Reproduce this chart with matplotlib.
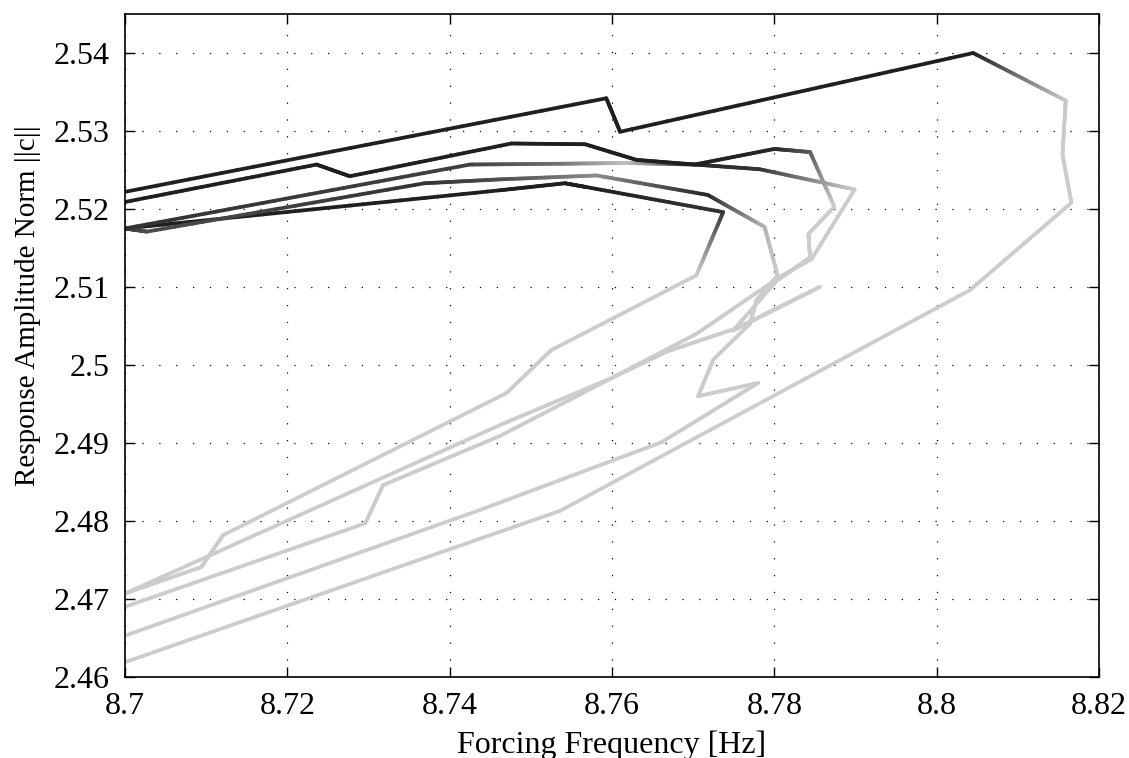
import numpy as np
import matplotlib
matplotlib.use("Agg")
import matplotlib.pyplot as plt
from matplotlib.collections import LineCollection

# frequency [Hz], amplitude norm, grey shade (0 = black, 1 = white) per point
freq_a = [8.7000, 8.7593, 8.7610, 8.8045, 8.8159, 8.8155, 8.8166, 8.8041, 8.7536, 8.7000]
amp_a = [2.5222, 2.5342, 2.5299, 2.5400, 2.5339, 2.5270, 2.5208, 2.5096, 2.4813, 2.4619]
shade_a = [0.12, 0.12, 0.12, 0.12, 0.78, 0.80, 0.80, 0.80, 0.80, 0.80]

freq_b = [8.7000, 8.7236, 8.7277, 8.7476, 8.7567, 8.7630, 8.7702, 8.7800, 8.7844, 8.7874,
          8.7842, 8.7844, 8.7803, 8.7749, 8.7856, 8.7753, 8.7667, 8.7601, 8.7462, 8.7000]
amp_b = [2.5209, 2.5257, 2.5242, 2.5284, 2.5283, 2.5263, 2.5257, 2.5277, 2.5273, 2.5203,
         2.5168, 2.5138, 2.5108, 2.5044, 2.5100, 2.5047, 2.5017, 2.4984, 2.4923, 2.4707]
shade_b = [0.12, 0.12, 0.12, 0.12, 0.12, 0.12, 0.12, 0.15, 0.35, 0.80,
           0.80, 0.80, 0.80, 0.80, 0.80, 0.80, 0.80, 0.80, 0.80, 0.80]

freq_c = [8.7000, 8.7425, 8.7536, 8.7618, 8.7702, 8.7782, 8.7899, 8.7846, 8.7807, 8.7704,
          8.7601, 8.7462, 8.7318, 8.7296, 8.7000]
amp_c = [2.5175, 2.5257, 2.5258, 2.5259, 2.5257, 2.5251, 2.5225, 2.5136, 2.5113, 2.5040,
         2.4984, 2.4909, 2.4846, 2.4797, 2.4690]
shade_c = [0.20, 0.25, 0.45, 0.75, 0.15, 0.20, 0.80, 0.80, 0.80, 0.80,
           0.80, 0.80, 0.80, 0.80, 0.80]

freq_d = [8.7000, 8.7027, 8.7369, 8.7462, 8.7581, 8.7718, 8.7788, 8.7804, 8.7778, 8.7770,
          8.7725, 8.7706, 8.7780, 8.7661, 8.7437, 8.7000]
amp_d = [2.5175, 2.5171, 2.5233, 2.5238, 2.5243, 2.5218, 2.5177, 2.5115, 2.5083, 2.5053,
         2.5007, 2.4960, 2.4977, 2.4901, 2.4814, 2.4653]
shade_d = [0.20, 0.30, 0.20, 0.30, 0.55, 0.15, 0.70, 0.80, 0.80, 0.80,
           0.80, 0.80, 0.80, 0.80, 0.80, 0.80]

freq_e = [8.7000, 8.7462, 8.7542, 8.7569, 8.7737, 8.7704, 8.7525, 8.7470, 8.7121, 8.7094, 8.7000]
amp_e = [2.5175, 2.5224, 2.5233, 2.5228, 2.5196, 2.5115, 2.5019, 2.4964, 2.4782, 2.4741, 2.4707]
shade_e = [0.12, 0.12, 0.12, 0.12, 0.20, 0.80, 0.80, 0.80, 0.80, 0.80, 0.80]

curves = [(freq_e, amp_e, shade_e), (freq_d, amp_d, shade_d), (freq_c, amp_c, shade_c),
          (freq_b, amp_b, shade_b), (freq_a, amp_a, shade_a)]

x_ticks = [8.7, 8.72, 8.74, 8.76, 8.78, 8.8, 8.82]
x_ticklabels = ["8.7", "8.72", "8.74", "8.76", "8.78", "8.8", "8.82"]
y_ticks = [2.46, 2.47, 2.48, 2.49, 2.5, 2.51, 2.52, 2.53, 2.54]
y_ticklabels = ["2.46", "2.47", "2.48", "2.49", "2.5", "2.51", "2.52", "2.53", "2.54"]

plt.rcParams["font.family"] = ["Liberation Serif", "DejaVu Serif"]

fig = plt.figure(figsize=(11.29, 7.58), dpi=100)
ax = fig.add_axes([125 / 1129, 1 - 677 / 758, 974 / 1129, 663 / 758])


def gradient_line(ax, f, a, s, n=30):
    # split each segment into small pieces so the grey shade changes along it
    segs, cols = [], []
    for i in range(len(f) - 1):
        t = np.linspace(0, 1, n + 1)
        xs = f[i] + (f[i + 1] - f[i]) * t
        ys = a[i] + (a[i + 1] - a[i]) * t
        gs = s[i] + (s[i + 1] - s[i]) * t
        for j in range(n):
            segs.append([(xs[j], ys[j]), (xs[j + 1], ys[j + 1])])
            g = 0.5 * (gs[j] + gs[j + 1])
            cols.append((g, g, g))
    lc = LineCollection(segs, colors=cols, linewidths=2.7, capstyle="round", joinstyle="round")
    ax.add_collection(lc)


for f, a, s in curves:
    gradient_line(ax, f, a, s)

ax.set_xlim(8.7, 8.82)
ax.set_ylim(2.46, 2.545)
ax.set_xticks(x_ticks)
ax.set_xticklabels(x_ticklabels)
ax.set_yticks(y_ticks)
ax.set_yticklabels(y_ticklabels)

ax.grid(True, color="black", linestyle=(0, (1, 12.5)), linewidth=0.9)
ax.tick_params(direction="in", length=7, width=1, top=True, right=True,
               labelsize=23, colors="black")
ax.tick_params(axis="x", pad=11)
ax.tick_params(axis="y", pad=11)
for sp in ax.spines.values():
    sp.set_linewidth(1.2)

ax.set_xlabel("Forcing Frequency [Hz]", fontsize=23)
ax.set_ylabel("Response Amplitude Norm ||c||", fontsize=21)
ax.xaxis.set_label_coords(0.5, -0.080)
ax.yaxis.set_label_coords(-0.086, 0.56)

fig.savefig("out.png", dpi=100)
